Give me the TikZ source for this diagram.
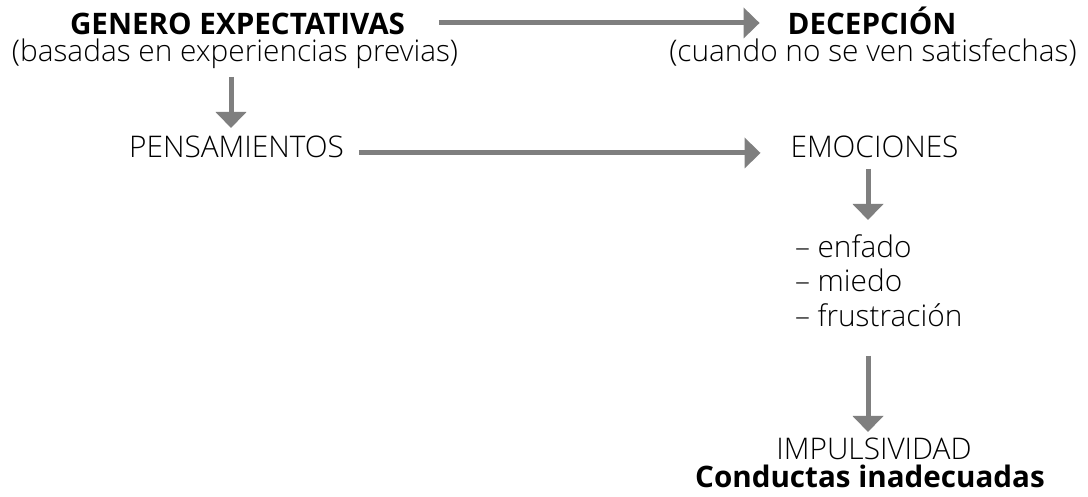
\documentclass[tikz,border=0pt]{standalone}
\usepackage{fontspec}
\setmainfont{Open Sans}[UprightFont=* Light,BoldFont=* Bold]
\usetikzlibrary{arrows.meta}
\definecolor{arrgray}{HTML}{7F7F7F}
\definecolor{txt}{HTML}{000000}
\begin{document}
\begin{tikzpicture}[x=1pt,y=1pt,
  lbl/.style={inner sep=0pt,outer sep=0pt,anchor=base,text=txt,font=\fontsize{29.8}{31}\selectfont},
  blbl/.style={lbl,font=\fontsize{29.6}{31}\selectfont\bfseries},
  item/.style={lbl,anchor=base west},
  arr/.style={draw=arrgray,line width=5pt,-{Triangle[width=30pt,length=16pt]},arrgray}]
\path[use as bounding box,fill=white] (0,0) rectangle (1088,497);
\node[blbl] (gen) at (237.5,462.5) {GENERO EXPECTATIVAS};
\node[lbl]  (bas) at (235,435) {(basadas en experiencias previas)};
\node[blbl] (dec) at (872,462) {DECEPCIÓN};
\node[lbl]  (cua) at (873,435) {(cuando no se ven satisfechas)};
\node[lbl]  (pen) at (236.5,339) {PENSAMIENTOS};
\node[lbl]  (emo) at (874.5,339) {EMOCIONES};
\node[item] (l1) at (795,239) {– enfado};
\node[item] (l2) at (795,205) {– miedo};
\node[item] (l3) at (795,170) {– frustración};
\node[lbl]  (imp) at (874,37) {IMPULSIVIDAD};
\node[blbl] (con) at (870,9) {Conductas inadecuadas};
\draw[arr] ([shift={(34pt,11.5pt)}]gen.base east) -- ([shift={(-28pt,12pt)}]dec.base west);
\draw[arr] ([shift={(15pt,5pt)}]pen.base east) -- ([shift={(-30pt,5pt)}]emo.base west);
\draw[arr] ([shift={(-4pt,-15pt)}]bas.base) -- ([shift={(-5.5pt,30pt)}]pen.base);
\draw[arr] ([shift={(-6.5pt,-11pt)}]emo.base) -- ([shift={(73pt,38pt)}]l1.base west);
\draw[arr] ([shift={(73pt,-29pt)}]l3.base west) -- ([shift={(-6pt,28pt)}]imp.base);
\end{tikzpicture}
\end{document}
